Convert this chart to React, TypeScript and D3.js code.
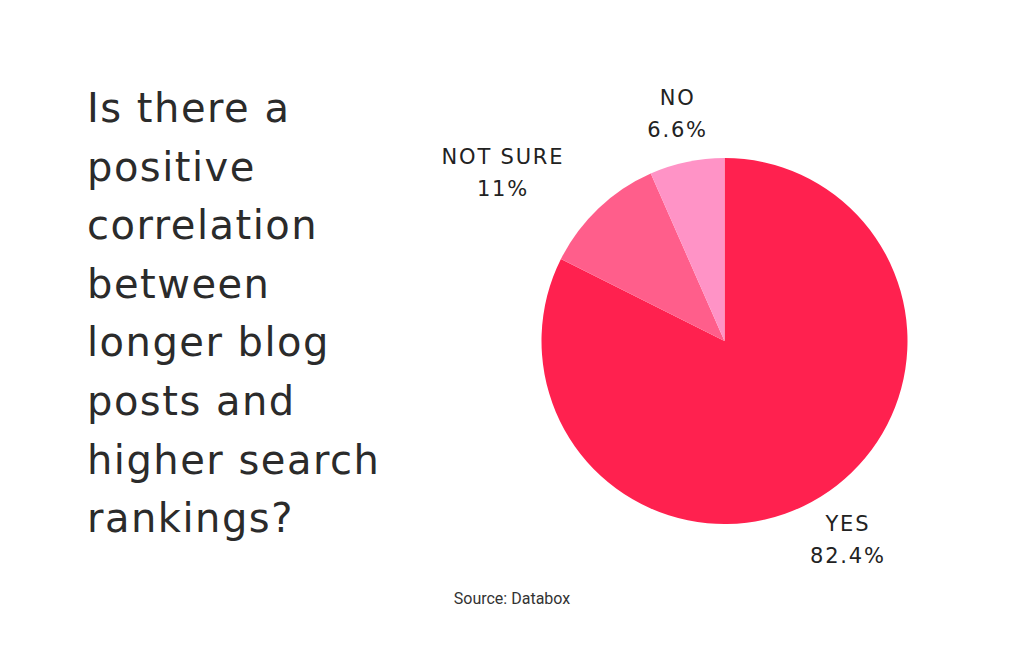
import React from "react";
import * as d3 from "d3";

const categories = ["YES", "NOT SURE", "NO"];
const values = [82.4, 11, 6.6];
const valueLabels = ["82.4%", "11%", "6.6%"];
const colors = ["#FF214F", "#FF5E8B", "#FF93C6"];
const titleLines = [
  "Is there a",
  "positive",
  "correlation",
  "between",
  "longer blog",
  "posts and",
  "higher search",
  "rankings?",
];
const source = "Source: Databox";

const W = 1024;
const H = 655;
const cx = 724.5;
const cy = 341;
const R = 183;
const labelR = 233;
const labelDx = [0, -62, 0];
const font = "'DejaVu Sans', sans-serif";

export default function App() {
  const pie = d3
    .pie<number>()
    .sort(null)
    .value((d) => d)
    .startAngle(0)
    .endAngle(2 * Math.PI);
  const arcs = pie(values);
  const arc = d3.arc<d3.PieArcDatum<number>>().innerRadius(0).outerRadius(R);

  return (
    <svg
      width={W}
      height={H}
      style={{ position: "absolute", left: 0, top: 0, background: "#fff" }}
    >
      <rect width={W} height={H} fill="#fff" />
      <g fontFamily={font} fill="#2b2b2b">
        {titleLines.map((t, i) => (
          <text
            key={i}
            x={87}
            y={122 + i * 58.6}
            fontSize={40}
            fontWeight={400}
            letterSpacing={1.5}
          >
            {t}
          </text>
        ))}
      </g>
      <g transform={`translate(${cx},${cy})`}>
        {arcs.map((a, i) => (
          <path key={i} d={arc(a) || ""} fill={colors[i]} />
        ))}
        {arcs.map((a, i) => {
          const mid = (a.startAngle + a.endAngle) / 2;
          const x = Math.sin(mid) * labelR + labelDx[i] + 1;
          const y = -Math.cos(mid) * labelR;
          return (
            <text
              key={"l" + i}
              textAnchor="middle"
              fontFamily={font}
              fontSize={21}
              letterSpacing={1.8}
              fill="#222"
            >
              <tspan x={x} y={y - 8}>
                {categories[i]}
              </tspan>
              <tspan x={x} y={y + 24}>
                {valueLabels[i]}
              </tspan>
            </text>
          );
        })}
      </g>
      <text
        x={512}
        y={604}
        textAnchor="middle"
        fontFamily="Roboto, sans-serif"
        fontSize={16}
        fill="#333"
      >
        {source}
      </text>
    </svg>
  );
}
